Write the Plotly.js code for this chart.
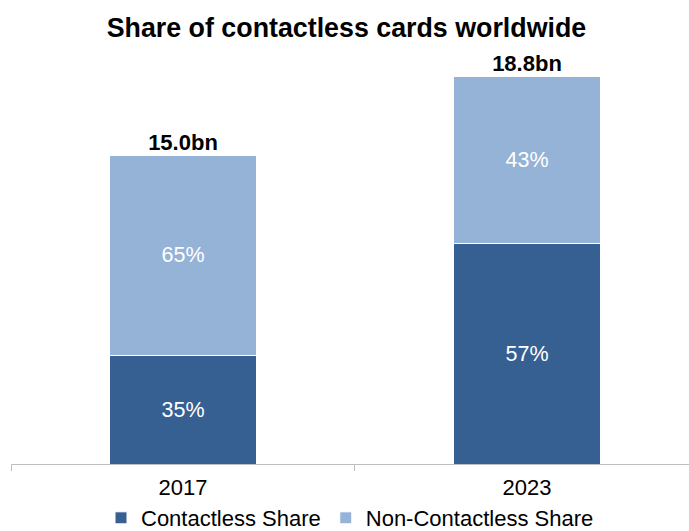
<!DOCTYPE html>
<html>
<head>
<meta charset="utf-8">
<script src="https://cdn.plot.ly/plotly-3.0.1.min.js"></script>
<style>html,body{margin:0;padding:0;background:#fff;}#chart{width:689px;height:531px;}</style>
</head>
<body>
<div id="chart"></div>
<script>
const years = ["2017", "2023"];
const totalsBn = [15.0, 18.8];
const contactlessPct = [35, 57];
const nonContactlessPct = [65, 43];
const totalLabels = ["15.0bn", "18.8bn"];

const contactlessVals = totalsBn.map((t, i) => t * contactlessPct[i] / 100);
const nonContactlessVals = totalsBn.map((t, i) => t * nonContactlessPct[i] / 100);

const FONT = "Arial, Liberation Sans, sans-serif";

const traces = [
  {
    type: "bar", name: "Contactless Share", x: years, y: contactlessVals,
    text: contactlessPct.map(p => p + "%"), textposition: "inside", insidetextanchor: "middle",
    textfont: {family: FONT, size: 21.5, color: "#ffffff"},
    marker: {color: "#366092", line: {color: "#ffffff", width: 1}},
    width: 0.425, hoverinfo: "skip"
  },
  {
    type: "bar", name: "Non-Contactless Share", x: years, y: nonContactlessVals,
    text: nonContactlessPct.map(p => p + "%"), textposition: "inside", insidetextanchor: "middle",
    textfont: {family: FONT, size: 21.5, color: "#ffffff"},
    marker: {color: "#95B3D7", line: {color: "#ffffff", width: 1}},
    width: 0.425, hoverinfo: "skip"
  },
  {
    type: "scatter", mode: "text", x: years, y: totalsBn, showlegend: false,
    text: totalLabels.map(t => "<b>" + t + "</b>"), textposition: "top center",
    textfont: {family: FONT, size: 22, color: "#000000"}, cliponaxis: false, hoverinfo: "skip"
  }
];

const layout = {
  width: 689, height: 531,
  margin: {l: 11, r: 0, t: 52, b: 67},
  barmode: "stack",
  paper_bgcolor: "#ffffff", plot_bgcolor: "#ffffff",
  font: {family: FONT, color: "#000000"},
  title: {text: "<b>Share of contactless cards worldwide</b>", font: {family: FONT, size: 26.8, color: "#000000"},
          x: 0.4948, xanchor: "center", xref: "paper", y: 1 - 28/531, yanchor: "middle", yref: "container"},
  xaxis: {
    type: "category", range: [-0.5, 1.471], showline: true, linecolor: "#BFBFBF", linewidth: 1,
    ticks: "outside", tickson: "boundaries", ticklen: 6, tickcolor: "#BFBFBF", tickwidth: 1, ticklabelstandoff: 4,
    tickfont: {family: FONT, size: 22, color: "#000000"}, showgrid: false, zeroline: false, fixedrange: true
  },
  yaxis: {range: [0, 20], visible: false, showgrid: false, zeroline: false, fixedrange: true},
  showlegend: true,
  legend: {orientation: "h", x: 0.5, xanchor: "center", y: 1 - 518/531, yref: "container", yanchor: "middle",
           bgcolor: "rgba(0,0,0,0)", font: {family: FONT, size: 22, color: "#000000"}, traceorder: "normal"}
};

Plotly.newPlot("chart", traces, layout, {displayModeBar: false, staticPlot: true});
</script>
</body>
</html>
